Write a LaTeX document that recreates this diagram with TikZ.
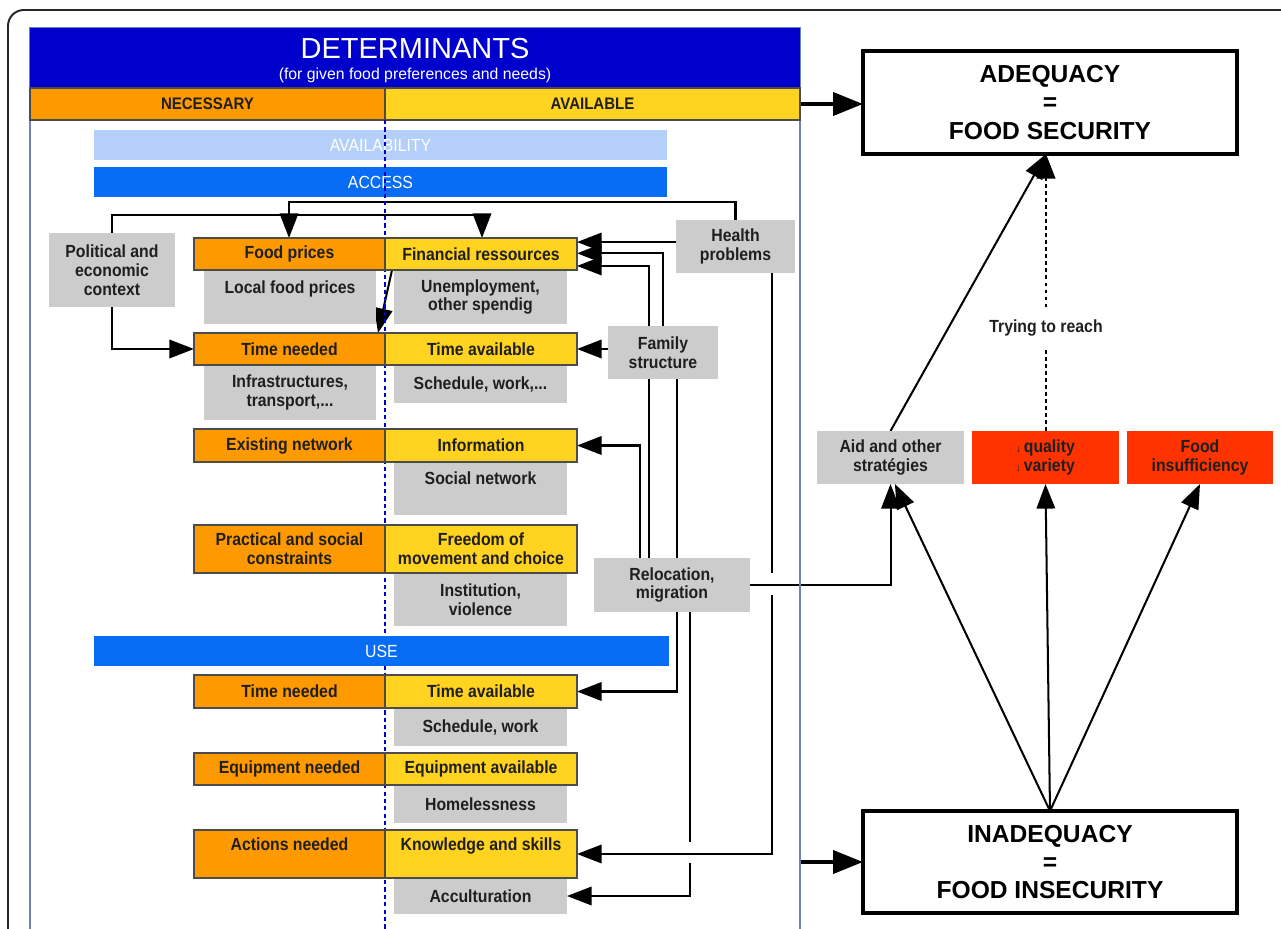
\documentclass[tikz,border=0pt]{standalone}
\usepackage{fontspec}
\setmainfont{Liberation Sans}
\newfontfamily\narrow{Liberation Sans}[FakeStretch=0.9]
\usetikzlibrary{arrows.meta,fit}
\pgfdeclarelayer{back}
\pgfdeclarelayer{conn}
\pgfsetlayers{back,conn,main}
\definecolor{hdrblue}{RGB}{0,0,204}
\definecolor{orng}{RGB}{255,153,0}
\definecolor{ylw}{RGB}{255,211,32}
\definecolor{lblue}{RGB}{180,208,250}
\definecolor{mblue}{RGB}{8,108,245}
\definecolor{gbx}{RGB}{204,204,204}
\definecolor{redb}{RGB}{255,51,0}
\definecolor{panelc}{RGB}{110,130,180}
\tikzset{
  txt/.style={font=\narrow\bfseries\fontsize{10}{10.8}\selectfont, text=black!88, align=center, inner sep=0pt},
  boxb/.style={inner sep=0pt, outer sep=0pt},
  ob/.style={boxb, fill=orng, draw=black!70, line width=0.7pt},
  yb/.style={boxb, fill=ylw, draw=black!70, line width=0.7pt},
  gb/.style={boxb, fill=gbx},
  rb/.style={boxb, fill=redb},
  ct/.style={label={[txt]center:{#1}}},
  tp/.style 2 args={label={[txt, anchor=north, yshift=-#1]north:{#2}}},
  bigbox/.style={inner sep=0pt, outer sep=0pt, draw=black, line width=2.4pt, fill=white},
  bigtxt/.style={font=\bfseries\fontsize{14}{16}\selectfont, align=center, inner sep=0pt},
  bar/.style={inner sep=0pt, outer sep=0pt},
  bartxt/.style={text=white, font=\narrow\fontsize{10}{10}\selectfont, inner sep=0pt},
  cn/.style={line width=1.15pt, -{Triangle[length=14pt,width=10.5pt]}},
  ln/.style={line width=1.15pt},
  bigarr/.style={line width=2.4pt, -{Triangle[length=17pt,width=13pt]}},
  dotln/.style={line width=1.4pt, dash pattern=on 2pt off 2pt},
}
\begin{document}
\begin{tikzpicture}[x=0.02cm, y=-0.02cm]
\useasboundingbox (0,0) rectangle (1281,929);
\clip (0,0) rectangle (1281,929);
\begin{pgfonlayer}{back}
\fill[white] (0,0) rectangle (1281,929);
\draw[black!85, line width=1.1pt, rounded corners=9pt] (8,10) rectangle (1320,960);
\end{pgfonlayer}

% left panel
\node[draw=panelc, line width=0.7pt, inner sep=0pt, outer sep=0pt, fit={(30,28) (800,990)}] (panel) {};
\node[fill=hdrblue, inner sep=0pt, outer sep=0pt, fit={(30,28) (800,88)}] (det) {};
\node[text=white, font=\fontsize{16.5}{16.5}\selectfont, inner sep=0pt] (dett) at (415,49) {DETERMINANTS};
\node[text=white, font=\fontsize{9}{9}\selectfont, inner sep=0pt] (dets) at (415,75) {(for given food preferences and needs)};
\node[ob, fit={(30,88) (385,120)}, label={[txt, font=\narrow\bfseries\fontsize{9.5}{10}\selectfont]center:NECESSARY}] (nec) {};
\node[yb, fit={(385,88) (800,120)}, label={[txt, font=\narrow\bfseries\fontsize{9.5}{10}\selectfont]center:AVAILABLE}] (avail) {};

\node[bar, fill=lblue, fit={(94,130) (667,160)}, label={[bartxt]center:AVAILABILITY}] (avb) {};
\node[bar, fill=mblue, fit={(94,167) (667,197)}, label={[bartxt]center:ACCESS}] (accb) {};
\draw[hdrblue, line width=1.2pt, dash pattern=on 2.4pt off 1.8pt] (385,120) -- (385,940);
\node[bar, fill=mblue, fit={(94,636) (669,666)}, label={[bartxt]center:USE}] (useb) {};

% gray boxes
\node[gb, fit={(204,270) (376,324)}, tp={6pt}{Local food prices}] (lfp) {};
\node[gb, fit={(394,270) (567,324)}, ct={Unemployment,\\other spendig}] (une) {};
\node[gb, fit={(49,233) (175,307)}, ct={Political and\\economic\\context}] (pol) {};
\node[gb, fit={(676,220) (795,273)}, ct={Health\\problems}] (hp) {};
\node[gb, fit={(204,365) (376,420)}, ct={Infrastructures,\\transport,...}] (infr) {};
\node[gb, fit={(394,365) (567,403)}, ct={Schedule, work,...}] (sch1) {};
\node[gb, fit={(608,326) (718,379)}, ct={Family\\structure}] (fs) {};
\node[gb, fit={(394,462) (567,515)}, tp={5.5pt}{Social network}] (sn) {};
\node[gb, fit={(394,573) (567,626)}, ct={Institution,\\violence}] (iv) {};
\node[gb, fit={(594,558) (750,612)}, ct={Relocation,\\migration}] (rel) {};
\node[gb, fit={(394,708) (567,746)}, ct={Schedule, work}] (sw) {};
\node[gb, fit={(394,785) (567,823)}, ct={Homelessness}] (hl) {};
\node[gb, fit={(394,878) (567,914)}, ct={Acculturation}] (acu) {};

% orange / yellow rows
\node[ob, fit={(194,238) (385,270)}, ct={Food prices}] (fp) {};
\node[yb, fit={(385,238) (577,270)}, ct={Financial ressources}] (fr) {};
\node[ob, fit={(194,333) (385,365)}, ct={Time needed}] (tn1) {};
\node[yb, fit={(385,333) (577,365)}, ct={Time available}] (ta1) {};
\node[ob, fit={(194,429) (385,462)}, ct={Existing network}] (en) {};
\node[yb, fit={(385,429) (577,462)}, ct={Information}] (inf) {};
\node[ob, fit={(194,525) (385,573)}, ct={Practical and social\\constraints}] (psc) {};
\node[yb, fit={(385,525) (577,573)}, ct={Freedom of\\movement and choice}] (fmc) {};
\node[ob, fit={(194,675) (385,708)}, ct={Time needed}] (tn2) {};
\node[yb, fit={(385,675) (577,708)}, ct={Time available}] (ta2) {};
\node[ob, fit={(194,753) (385,785)}, ct={Equipment needed}] (eqn) {};
\node[yb, fit={(385,753) (577,785)}, ct={Equipment available}] (eqa) {};
\node[ob, fit={(194,830) (385,878)}, tp={4pt}{Actions needed}] (an) {};
\node[yb, fit={(385,830) (577,878)}, tp={4pt}{Knowledge and skills}] (ks) {};

% right side
\node[bigbox, fit={(863,51) (1237,154)}, label={[bigtxt]center:{ADEQUACY\\=\\FOOD SECURITY}}] (adq) {};
\node[bigbox, fit={(863,811) (1237,913)}, label={[bigtxt]center:{INADEQUACY\\=\\FOOD INSECURITY}}] (inad) {};
\node[gb, fit={(817,431) (964,484)}, ct={Aid and other\\stratégies}] (aid) {};
\node[rb, fit={(972,431) (1119,484)}, ct={{\fontsize{6}{6}\selectfont ↓}\,quality\\{\fontsize{6}{6}\selectfont ↓}\,variety}] (qv) {};
\node[rb, fit={(1127,431) (1273,484)}, ct={Food\\insufficiency}] (fi) {};
\node[txt, inner xsep=2pt, inner ysep=7pt] (try) at (1046,328) {Trying to reach};

% helper coordinates
\coordinate (h1) at (289,202);
\coordinate (p1) at (482,215);
\coordinate (v640) at (640,0);
\coordinate (v649) at (649,0);
\coordinate (v677) at (677,0);
\coordinate (v690) at (690,0);
\coordinate (v772) at (772,0);
\coordinate (fa1) at ([yshift=6.8pt]fr.east);
\coordinate (fa2) at ([yshift=0.4pt]fr.east);
\coordinate (fa3) at ([yshift=-6.8pt]fr.east);

\begin{pgfonlayer}{conn}
\draw[cn] (hp.north) |- (h1) -- (h1 |- fp.north);
\draw[cn] (pol.north) |- (p1) -- (p1 |- fr.north);
\draw[cn] (pol.south) |- (tn1.west);
\draw[cn] ([xshift=4pt]fp.south east) -- ([xshift=-4pt]tn1.north east);
\draw[cn] (hp.west |- fa1) -- (fa1);
\draw[cn] (fs.north) |- (fa2);
\draw[cn] (rel.north -| v649) |- (fa3);
\draw[cn] (rel.north -| v640) |- (inf.east);
\draw[cn] (ta1.east -| fs.west) -- (ta1.east);
\draw[cn] (fs.south -| v677) |- (ta2.east);
\draw[ln] (rel.south -| v690) -- (690,842);
\draw[cn] (690,863) |- (acu.east);
\draw[ln] (hp.south -| v772) -- (772,573);
\draw[cn] (772,595) |- (ks.east);
\draw[cn] (rel.east) -| (aid.south);
\draw[cn] (inad.north) -- ([xshift=2.5pt]aid.south);
\draw[cn] (inad.north) -- (qv.south);
\draw[cn] (inad.north) -- (fi.south);
\draw[cn] (aid.north) -- (try.north |- adq.south);
\draw[dotln] (try.south |- qv.north) -- (try.south);
\draw[dotln, -{Triangle[length=14pt,width=10.5pt]}] (try.north) -- (try.north |- adq.south);
\draw[bigarr] (avail.east) -- (avail.east -| adq.west);
\draw[bigarr] (inad.west -| panel.east) -- (inad.west);
\end{pgfonlayer}
\end{tikzpicture}
\end{document}
